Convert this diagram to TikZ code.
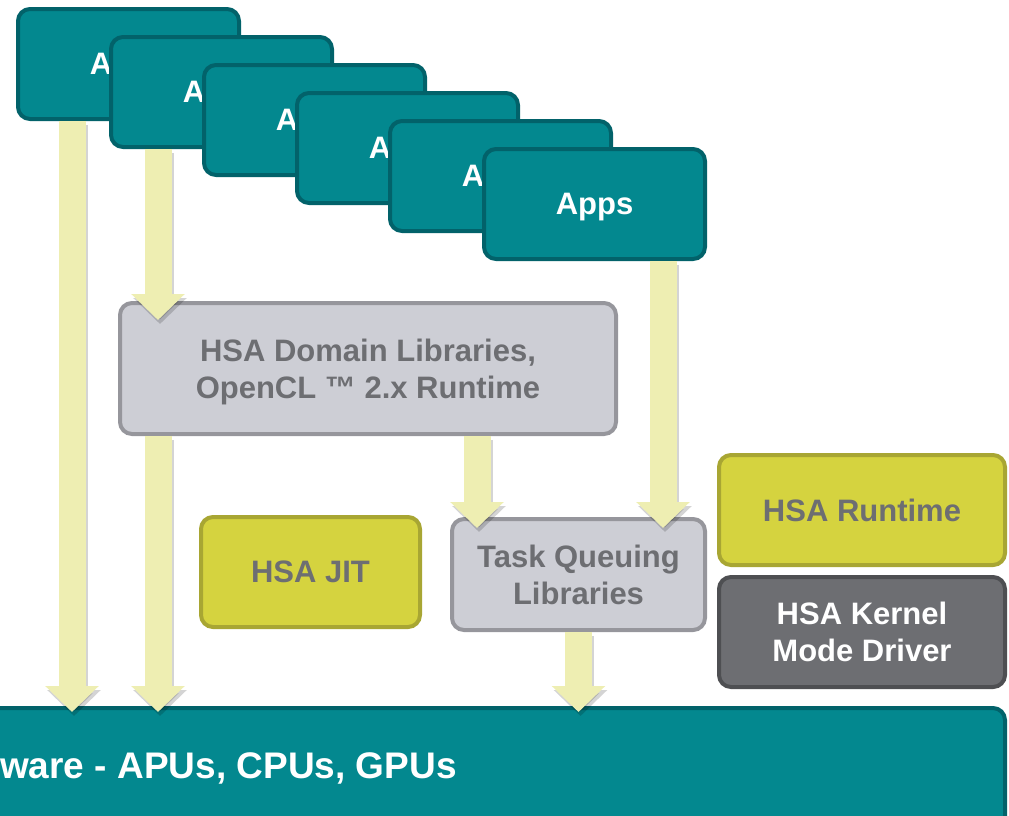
\documentclass[tikz,border=0pt]{standalone}
\usepackage{fontspec}
\setmainfont{Liberation Sans}
\usetikzlibrary{arrows.meta,calc}
\definecolor{tealfill}{HTML}{03888F}
\definecolor{tealedge}{HTML}{02626A}
\definecolor{arr}{HTML}{EEEEB2}
\definecolor{greyfill}{HTML}{CDCED5}
\definecolor{greyedge}{HTML}{96969C}
\definecolor{greytext}{HTML}{6D6E72}
\definecolor{limefill}{HTML}{D5D33F}
\definecolor{limeedge}{HTML}{A8A633}
\definecolor{darkfill}{HTML}{6D6E72}
\definecolor{darkedge}{HTML}{4E4F52}
\begin{document}
\begin{tikzpicture}[x=1pt,y=-1pt,
 box/.style={rounded corners=12pt, line width=4pt, inner sep=0pt, align=center, text depth=0pt,
   font=\fontsize{31}{37}\selectfont\bfseries},
 app/.style={box, fill=tealfill, draw=tealedge, text=white, minimum width=221pt, minimum height=110pt},
 greybox/.style={box, fill=greyfill, draw=greyedge, text=greytext},
 limebox/.style={box, fill=limefill, draw=limeedge, text=greytext},
 darkbox/.style={box, fill=darkfill, draw=darkedge, text=white},
 yarrow/.style={line width=27pt, draw=arr, -{Triangle[width=52pt,length=26pt]}},
 yshadow/.style={line width=27pt, draw=black, opacity=0.17, -{Triangle[width=52pt,length=26pt]},
   transform canvas={shift={(2pt,-4pt)}}}
]
\useasboundingbox (0,0) rectangle (1009,815);
\begin{scope}
\clip (0,0) rectangle (1009,815);
% hardware bar
\node[box, fill=tealfill, draw=tealedge, minimum width=1033pt, minimum height=150pt] (hw) at (488.5,783) {};
\node[anchor=west, inner sep=0pt, text=white, font=\fontsize{37}{42}\selectfont\bfseries] (hwtext) at (0,768) {ware - APUs, CPUs, GPUs};
\end{scope}
% apps
\node[app] (a1) at (128.5,64) {Apps};
\node[app] (a2) at (221.5,92) {Apps};
\node[app] (a3) at (314.5,120) {Apps};
\node[app] (a4) at (407.5,148) {Apps};
\node[app] (a5) at (500.5,176) {Apps};
\node[app] (a6) at (594.5,204) {Apps};
% middle boxes
\node[greybox, minimum width=496pt, minimum height=131pt] (dom) at (368,368.5) {HSA Domain Libraries,\\OpenCL ™ 2.x Runtime};
\node[greybox, minimum width=253pt, minimum height=111pt] (tq) at (578.5,574.5) {Task Queuing\\Libraries};
\node[limebox, minimum width=219pt, minimum height=110pt] (jit) at (310.5,572) {HSA JIT};
\node[limebox, minimum width=286pt, minimum height=110pt] (rt) at (862,510) {HSA Runtime};
\node[darkbox, minimum width=286pt, minimum height=110pt] (kmd) at (862,632) {HSA Kernel\\Mode Driver};
% arrows
\foreach \s in {yshadow,yarrow}{
  \draw[\s] ([xshift=-56.5pt]a1.south) -- ($([xshift=-56.5pt]a1.south |- hw.north)+(0,6)$);
  \draw[\s] ([xshift=-63.5pt]a2.south) -- ($([xshift=-63.5pt]a2.south |- dom.north)+(0,19)$);
  \draw[\s] ([xshift=-210pt]dom.south) -- ($([xshift=-210pt]dom.south |- hw.north)+(0,6)$);
  \draw[\s] ([xshift=109pt]dom.south) -- ($([xshift=109pt]dom.south |- tq.north)+(0,11)$);
  \draw[\s] ([xshift=68.5pt]a6.south) -- ($([xshift=68.5pt]a6.south |- tq.north)+(0,11)$);
  \draw[\s] (tq.south) -- ($(tq.south |- hw.north)+(0,6)$);
}
\end{tikzpicture}
\end{document}
